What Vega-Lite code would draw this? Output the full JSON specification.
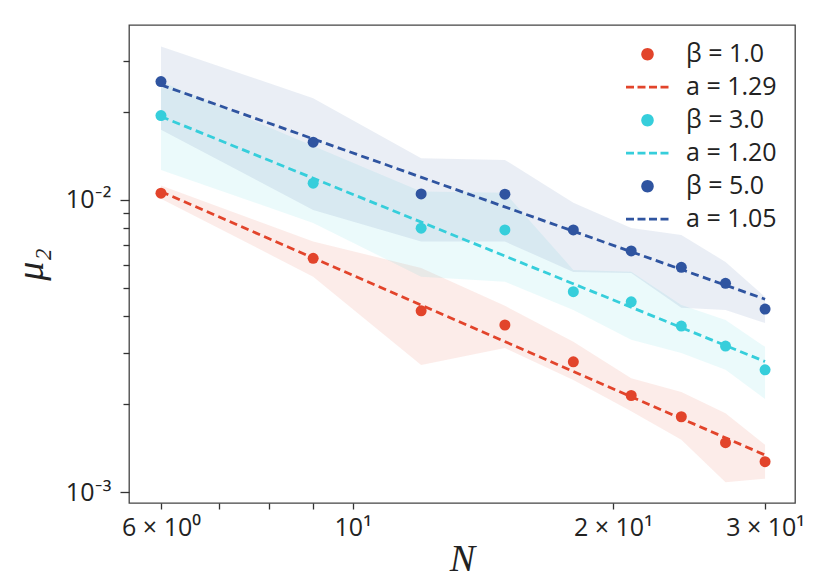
{
  "$schema": "https://vega.github.io/schema/vega-lite/v6.json",
  "width": 666,
  "height": 478,
  "autosize": {"type": "none"},
  "padding": {"left": 129, "top": 25, "right": 35, "bottom": 84},
  "background": "white",
  "config": {
    "view": {"stroke": "#444444", "strokeWidth": 1.3},
    "font": "Open Sans, Lato, sans-serif",
    "axis": {
      "domain": false,
      "grid": false,
      "tickColor": "#333333",
      "tickWidth": 1.3,
      "labelFont": "Open Sans, Lato, sans-serif",
      "labelFontSize": 25,
      "labelColor": "#222222",
      "titleFont": "Liberation Serif, DejaVu Serif, serif",
      "titleFontStyle": "italic",
      "titleFontWeight": "normal",
      "titleFontSize": 38,
      "titleColor": "#222222"
    },
    "legend": {
      "labelFont": "Open Sans, Lato, sans-serif",
      "labelFontSize": 25,
      "labelColor": "#222222",
      "symbolOpacity": 1
    }
  },
  "datasets": {
    "points": [
      {"N": 6, "label": "β = 1.0", "v": 0.01054},
      {"N": 9, "label": "β = 1.0", "v": 0.00631},
      {"N": 12, "label": "β = 1.0", "v": 0.00417},
      {"N": 15, "label": "β = 1.0", "v": 0.00373},
      {"N": 18, "label": "β = 1.0", "v": 0.00279},
      {"N": 21, "label": "β = 1.0", "v": 0.00214},
      {"N": 24, "label": "β = 1.0", "v": 0.00181},
      {"N": 27, "label": "β = 1.0", "v": 0.001475},
      {"N": 30, "label": "β = 1.0", "v": 0.00127},
      {"N": 6, "label": "β = 3.0", "v": 0.01944},
      {"N": 9, "label": "β = 3.0", "v": 0.01141},
      {"N": 12, "label": "β = 3.0", "v": 0.008},
      {"N": 15, "label": "β = 3.0", "v": 0.00789},
      {"N": 18, "label": "β = 3.0", "v": 0.00485},
      {"N": 21, "label": "β = 3.0", "v": 0.00448},
      {"N": 24, "label": "β = 3.0", "v": 0.0037},
      {"N": 27, "label": "β = 3.0", "v": 0.00316},
      {"N": 30, "label": "β = 3.0", "v": 0.00262},
      {"N": 6, "label": "β = 5.0", "v": 0.02541},
      {"N": 9, "label": "β = 5.0", "v": 0.01576},
      {"N": 12, "label": "β = 5.0", "v": 0.01048},
      {"N": 15, "label": "β = 5.0", "v": 0.01046},
      {"N": 18, "label": "β = 5.0", "v": 0.00789},
      {"N": 21, "label": "β = 5.0", "v": 0.00669},
      {"N": 24, "label": "β = 5.0", "v": 0.00588},
      {"N": 27, "label": "β = 5.0", "v": 0.00518},
      {"N": 30, "label": "β = 5.0", "v": 0.00423}
    ],
    "fits": [
      {"N": 6, "label": "a = 1.29", "v": 0.01068},
      {"N": 30, "label": "a = 1.29", "v": 0.001338},
      {"N": 6, "label": "a = 1.20", "v": 0.0193},
      {"N": 30, "label": "a = 1.20", "v": 0.002796},
      {"N": 6, "label": "a = 1.05", "v": 0.02476},
      {"N": 30, "label": "a = 1.05", "v": 0.004571}
    ],
    "bands": [
      {"N": 6, "label": "β = 1.0", "lo": 0.0101, "hi": 0.0112},
      {"N": 9, "label": "β = 1.0", "lo": 0.00546, "hi": 0.0072},
      {"N": 12, "label": "β = 1.0", "lo": 0.00272, "hi": 0.00585},
      {"N": 15, "label": "β = 1.0", "lo": 0.00311, "hi": 0.00434},
      {"N": 18, "label": "β = 1.0", "lo": 0.00242, "hi": 0.00327},
      {"N": 21, "label": "β = 1.0", "lo": 0.00189, "hi": 0.00245},
      {"N": 24, "label": "β = 1.0", "lo": 0.00151, "hi": 0.0022},
      {"N": 27, "label": "β = 1.0", "lo": 0.00108, "hi": 0.00186},
      {"N": 30, "label": "β = 1.0", "lo": 0.00111, "hi": 0.00145},
      {"N": 6, "label": "β = 3.0", "lo": 0.01267, "hi": 0.02541},
      {"N": 9, "label": "β = 3.0", "lo": 0.00834, "hi": 0.01531},
      {"N": 12, "label": "β = 3.0", "lo": 0.00546, "hi": 0.01068},
      {"N": 15, "label": "β = 3.0", "lo": 0.00525, "hi": 0.01059},
      {"N": 18, "label": "β = 3.0", "lo": 0.0042, "hi": 0.00576},
      {"N": 21, "label": "β = 3.0", "lo": 0.00332, "hi": 0.00568},
      {"N": 24, "label": "β = 3.0", "lo": 0.00299, "hi": 0.00437},
      {"N": 27, "label": "β = 3.0", "lo": 0.00262, "hi": 0.00388},
      {"N": 30, "label": "β = 3.0", "lo": 0.00208, "hi": 0.00314},
      {"N": 6, "label": "β = 5.0", "lo": 0.01738, "hi": 0.0335},
      {"N": 9, "label": "β = 5.0", "lo": 0.00924, "hi": 0.0223},
      {"N": 12, "label": "β = 5.0", "lo": 0.0072, "hi": 0.0139},
      {"N": 15, "label": "β = 5.0", "lo": 0.0072, "hi": 0.01371},
      {"N": 18, "label": "β = 5.0", "lo": 0.00567, "hi": 0.00977},
      {"N": 21, "label": "β = 5.0", "lo": 0.00562, "hi": 0.00802},
      {"N": 24, "label": "β = 5.0", "lo": 0.00427, "hi": 0.00759},
      {"N": 27, "label": "β = 5.0", "lo": 0.0042, "hi": 0.00613},
      {"N": 30, "label": "β = 5.0", "lo": 0.00379, "hi": 0.00465}
    ]
  },
  "encoding": {
    "x": {
      "field": "N",
      "type": "quantitative",
      "scale": {"type": "log", "domain": [5.51, 32.49], "nice": false, "zero": false},
      "axis": {
        "title": "N",
        "values": [6, 7, 8, 9, 10, 20, 30],
        "labelExpr": "datum.value == 6 ? '6 × 10⁰' : datum.value == 10 ? '10¹' : datum.value == 20 ? '2 × 10¹' : datum.value == 30 ? '3 × 10¹' : ''",
        "tickSize": 6,
        "labelPadding": 6,
        "titlePadding": 0
      }
    },
    "color": {
      "field": "label",
      "type": "nominal",
      "scale": {
        "domain": ["β = 1.0", "a = 1.29", "β = 3.0", "a = 1.20", "β = 5.0", "a = 1.05"],
        "range": ["#E2442B", "#E2442B", "#36CEDB", "#36CEDB", "#2F54A0", "#2F54A0"]
      },
      "legend": {
        "title": null,
        "orient": "none",
        "legendX": 495,
        "legendY": 13,
        "padding": 0,
        "rowPadding": 0,
        "clipHeight": 32.4,
        "symbolSize": 1849,
        "symbolOffset": 11,
        "labelOffset": 26,
        "encode": {
          "symbols": {
            "update": {
              "shape": {"signal": "substring(datum.value, 0, 1) == 'a' ? 'stroke' : 'M0.29,0C0.29,0.1602,0.1602,0.29,0,0.29C-0.1602,0.29,-0.29,0.1602,-0.29,0C-0.29,-0.1602,-0.1602,-0.29,0,-0.29C0.1602,-0.29,0.29,-0.1602,0.29,0Z'"},
              "size": {"value": 1849},
              "fill": {"signal": "substring(datum.value, 0, 1) == 'a' ? 'transparent' : scale('color', datum.value)"},
              "stroke": {"signal": "scale('color', datum.value)"},
              "strokeWidth": {"signal": "substring(datum.value, 0, 1) == 'a' ? 2.8 : 0"},
              "strokeDash": {"signal": "substring(datum.value, 0, 1) == 'a' ? [8, 3.5] : [1, 0]"},
              "opacity": {"value": 1}
            }
          }
        }
      }
    }
  },
  "layer": [
    {
      "data": {"name": "bands"},
      "mark": {"type": "area", "opacity": 0.1},
      "encoding": {
        "y": {
          "field": "lo",
          "type": "quantitative",
          "scale": {"type": "log", "domain": [0.000917, 0.0397], "nice": false, "zero": false},
          "axis": {
            "title": "μ₂",
            "values": [0.001, 0.002, 0.003, 0.004, 0.005, 0.006, 0.007, 0.008, 0.009, 0.01, 0.02, 0.03],
            "labelExpr": "datum.value == 0.01 ? '10⁻²' : datum.value == 0.001 ? '10⁻³' : ''",
            "tickSize": {"condition": {"test": "datum.value == 0.01 || datum.value == 0.001", "value": 9}, "value": 6},
            "labelPadding": 9,
            "titlePadding": 15
          }
        },
        "y2": {"field": "hi"}
      }
    },
    {
      "data": {"name": "fits"},
      "mark": {"type": "line", "strokeDash": [8, 4.5], "strokeWidth": 2.8},
      "encoding": {
        "y": {"field": "v", "type": "quantitative"}
      }
    },
    {
      "data": {"name": "points"},
      "mark": {"type": "point", "filled": true, "size": 121, "opacity": 1},
      "encoding": {
        "y": {"field": "v", "type": "quantitative"}
      }
    }
  ]
}
